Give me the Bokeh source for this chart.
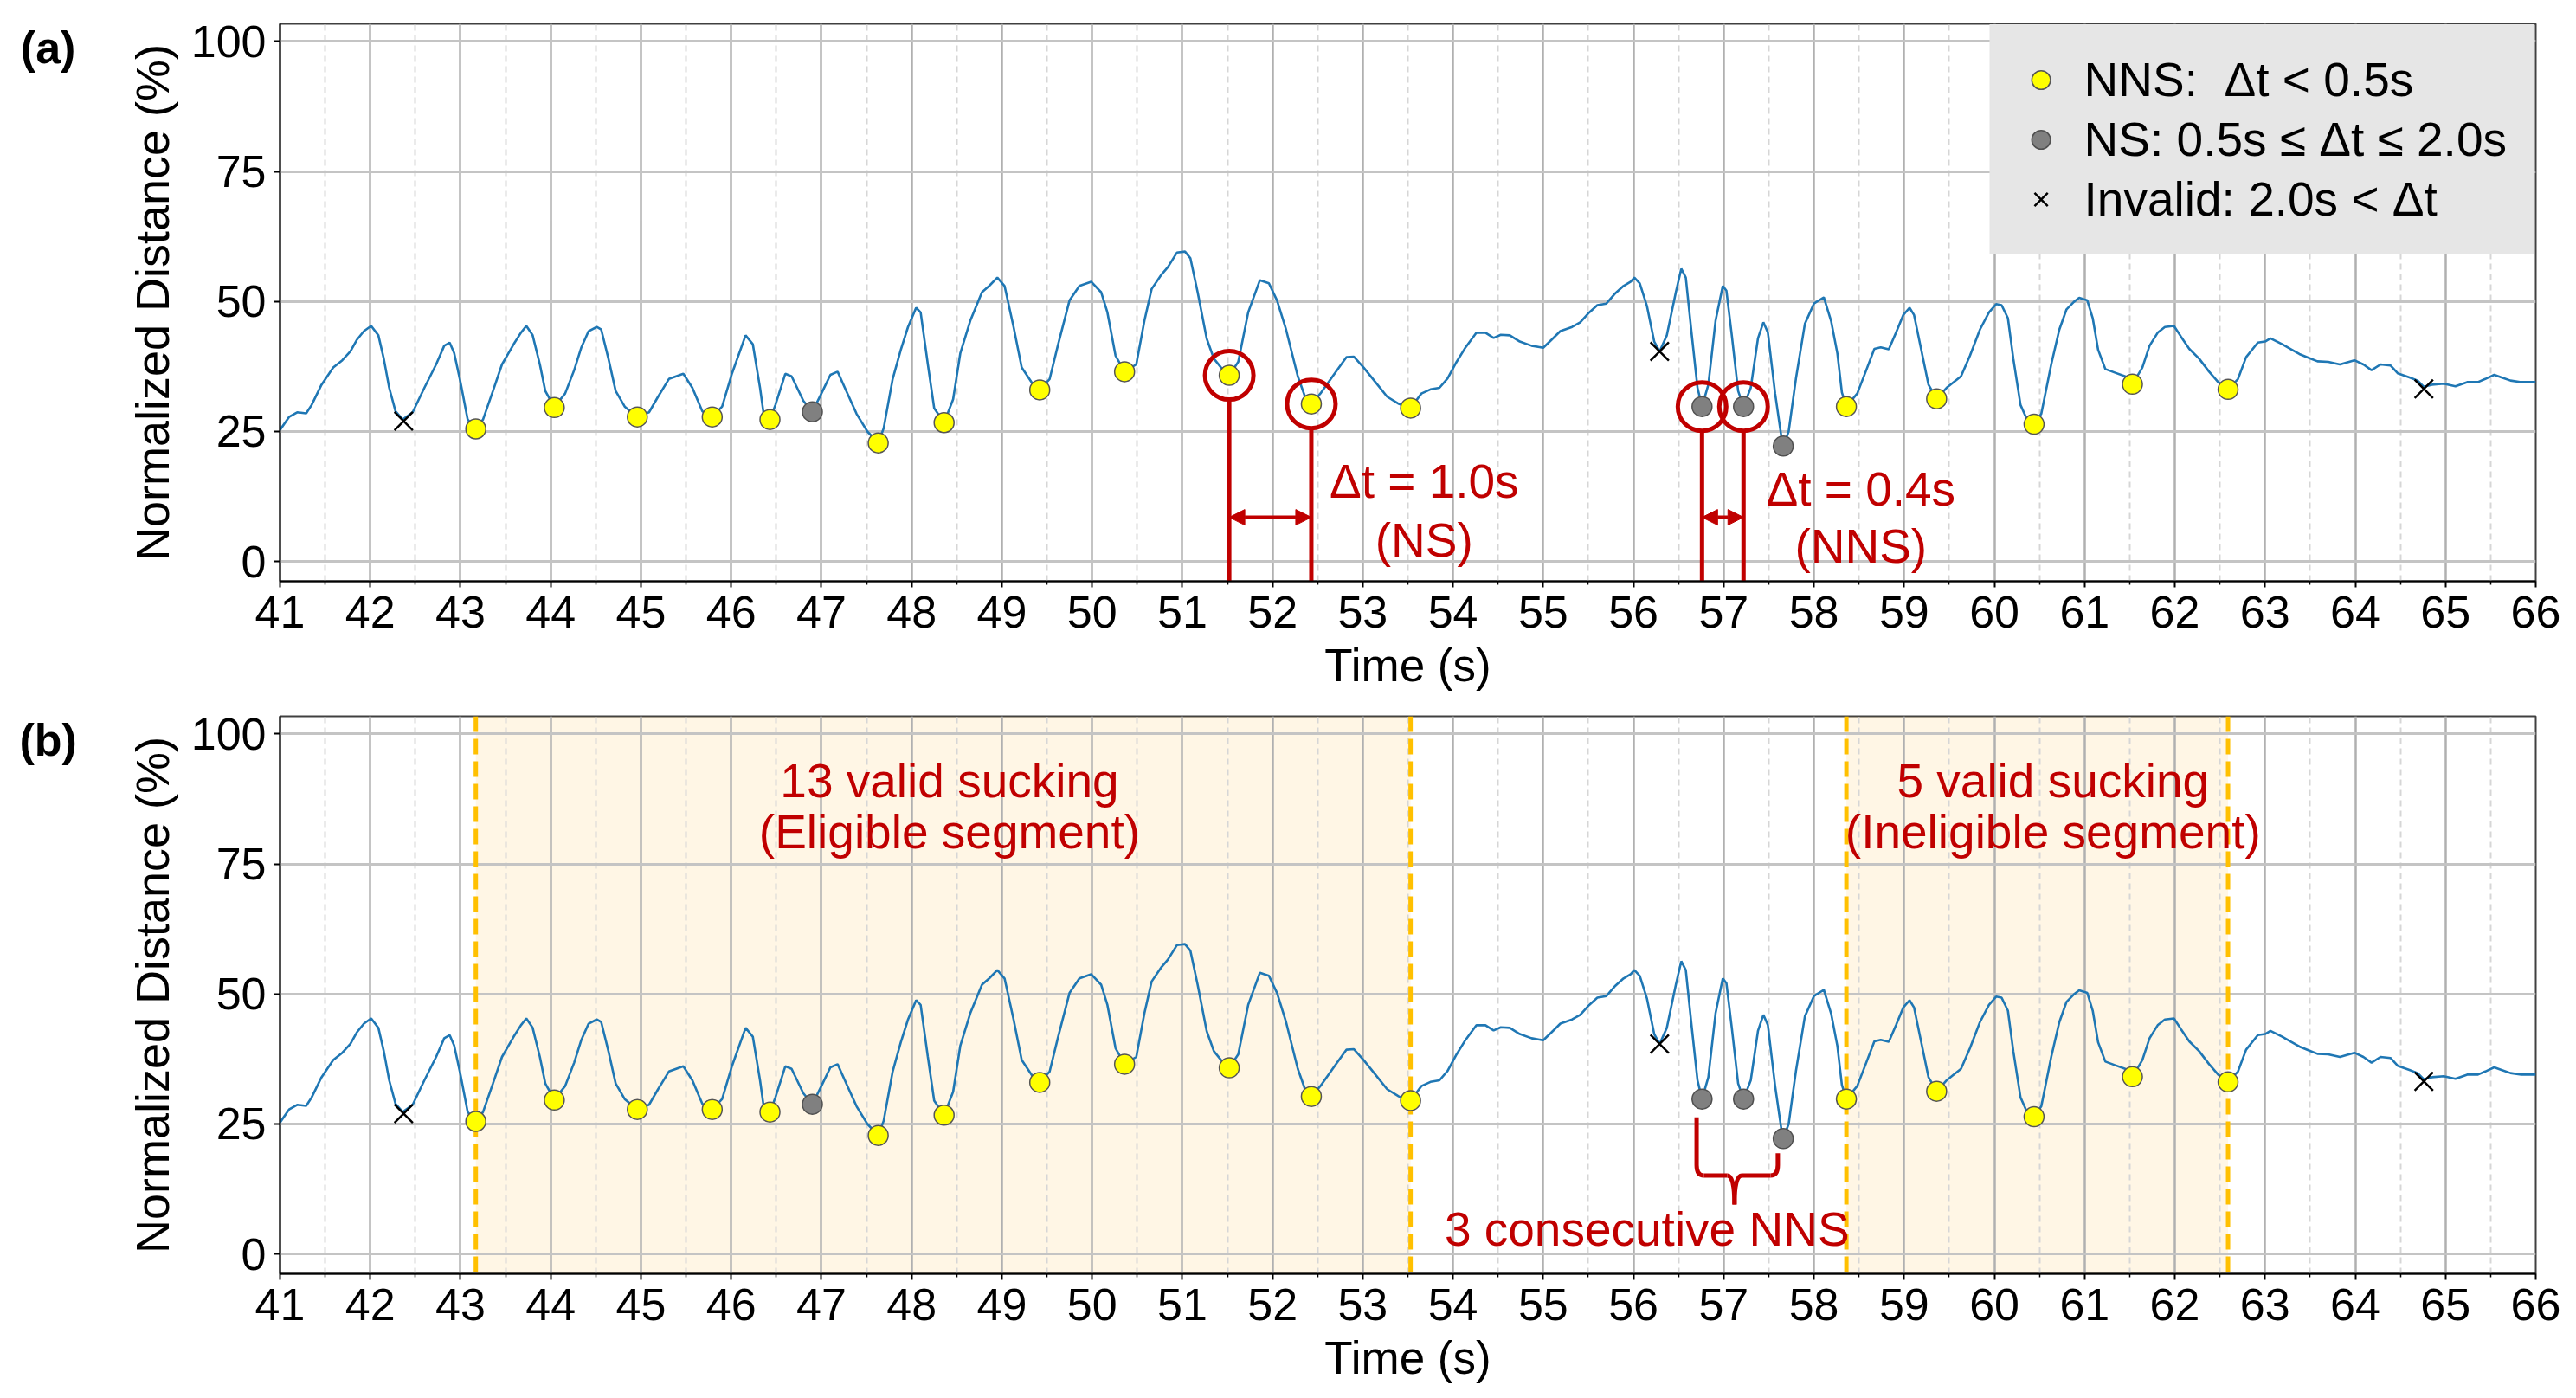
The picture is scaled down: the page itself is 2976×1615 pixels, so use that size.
from bokeh.plotting import figure
from bokeh.models import (Range1d, FixedTicker, Legend, LegendItem, Label, Span,
                          BoxAnnotation, Arrow, NormalHead)
from bokeh.layouts import column
from bokeh.embed import file_html
from bokeh.resources import INLINE

# ---------------- data ----------------
time_s = [41.00, 41.10, 41.19, 41.29, 41.35, 41.46, 41.59, 41.69, 41.78, 41.85, 41.93, 42.01,
          42.09, 42.15, 42.21, 42.28, 42.36, 42.47, 42.60, 42.73, 42.82, 42.88, 42.93, 43.00,
          43.08, 43.17, 43.25, 43.36, 43.46, 43.59, 43.67, 43.73, 43.80, 43.88, 43.94, 44.04,
          44.16, 44.26, 44.34, 44.42, 44.51, 44.56, 44.64, 44.72, 44.82, 44.96, 45.09, 45.19,
          45.31, 45.47, 45.57, 45.68, 45.79, 45.90, 46.01, 46.16, 46.24, 46.32, 46.36, 46.43,
          46.49, 46.60, 46.67, 46.80, 46.90, 47.00, 47.10, 47.18, 47.26, 47.39, 47.51, 47.63,
          47.69, 47.79, 47.88, 47.96, 48.05, 48.10, 48.18, 48.25, 48.36, 48.46, 48.54, 48.65,
          48.78, 48.86, 48.95, 49.03, 49.13, 49.22, 49.34, 49.42, 49.53, 49.62, 49.75, 49.86,
          49.99, 50.10, 50.17, 50.26, 50.36, 50.49, 50.58, 50.66, 50.77, 50.84, 50.94, 51.03,
          51.09, 51.17, 51.27, 51.35, 51.43, 51.52, 51.62, 51.73, 51.86, 51.96, 52.05, 52.15,
          52.28, 52.36, 52.43, 52.53, 52.69, 52.82, 52.90, 53.01, 53.14, 53.27, 53.40, 53.53,
          53.65, 53.75, 53.85, 53.94, 54.04, 54.14, 54.26, 54.36, 54.45, 54.53, 54.63, 54.74,
          54.87, 55.00, 55.09, 55.19, 55.32, 55.41, 55.51, 55.60, 55.70, 55.80, 55.89, 55.97,
          56.01, 56.07, 56.15, 56.23, 56.29, 56.37, 56.47, 56.53, 56.58, 56.64, 56.71, 56.76,
          56.83, 56.91, 56.99, 57.03, 57.09, 57.16, 57.22, 57.30, 57.38, 57.44, 57.49, 57.57,
          57.64, 57.66, 57.72, 57.80, 57.90, 58.00, 58.11, 58.19, 58.26, 58.31, 58.36, 58.48,
          58.58, 58.67, 58.74, 58.83, 58.91, 58.99, 59.06, 59.11, 59.19, 59.27, 59.36, 59.47,
          59.63, 59.73, 59.84, 59.94, 60.02, 60.08, 60.15, 60.21, 60.29, 60.37, 60.44, 60.52,
          60.63, 60.72, 60.80, 60.88, 60.94, 61.03, 61.09, 61.15, 61.23, 61.34, 61.45, 61.53,
          61.64, 61.72, 61.81, 61.89, 61.99, 62.07, 62.16, 62.27, 62.38, 62.48, 62.59, 62.70,
          62.79, 62.92, 63.00, 63.06, 63.19, 63.29, 63.38, 63.48, 63.58, 63.70, 63.83, 63.99,
          64.09, 64.18, 64.28, 64.39, 64.47, 64.60, 64.69, 64.76, 64.85, 64.98, 65.11, 65.24,
          65.36, 65.44, 65.54, 65.62, 65.72, 65.84, 66.00]
distance = [25.3, 27.8, 28.7, 28.5, 30.1, 34.0, 37.3, 38.7, 40.4, 42.6, 44.3, 45.3,
            43.5, 39.0, 33.4, 28.9, 27.3, 28.7, 33.4, 37.9, 41.5, 42.1, 40.1, 34.5,
            27.3, 25.5, 27.3, 32.8, 37.9, 41.8, 44.0, 45.3, 43.5, 37.9, 32.8, 29.7,
            32.3, 36.8, 41.2, 44.3, 45.1, 44.6, 39.0, 32.8, 29.8, 27.8, 28.7, 31.7,
            35.1, 36.1, 33.4, 28.9, 27.8, 29.8, 36.2, 43.5, 41.8, 33.4, 28.4, 27.3,
            30.1, 36.1, 35.6, 30.9, 28.8, 32.3, 35.9, 36.5, 33.4, 28.4, 25.0, 22.8,
            25.6, 35.1, 40.7, 45.1, 48.8, 47.9, 37.9, 29.5, 26.7, 31.2, 40.1, 46.3,
            51.8, 53.0, 54.6, 53.0, 45.1, 37.3, 34.2, 33.0, 35.1, 41.5, 50.2, 53.0,
            53.8, 51.8, 47.9, 39.6, 36.5, 37.9, 46.3, 52.4, 55.2, 56.6, 59.4, 59.6,
            58.3, 51.8, 42.9, 39.0, 37.3, 35.8, 38.4, 47.9, 54.1, 53.5, 50.2, 44.6,
            35.6, 31.7, 30.3, 32.3, 36.2, 39.3, 39.4, 37.3, 34.5, 31.7, 30.3, 29.5,
            32.3, 33.1, 33.4, 35.2, 38.4, 41.2, 44.0, 44.0, 43.0, 43.6, 43.5, 42.3,
            41.5, 41.1, 42.6, 44.3, 45.1, 46.0, 47.9, 49.3, 49.6, 51.6, 53.0, 53.8,
            54.6, 53.5, 49.1, 42.3, 40.4, 43.5, 51.8, 56.3, 54.6, 44.6, 33.4, 29.8,
            34.0, 46.3, 53.0, 52.1, 43.5, 32.8, 29.8, 33.4, 42.9, 46.0, 44.0, 32.3,
            23.9, 22.2, 25.0, 35.1, 45.7, 49.6, 50.8, 46.3, 40.0, 32.5, 29.8, 32.3,
            36.8, 40.9, 41.2, 40.8, 44.0, 47.4, 48.8, 47.4, 40.7, 34.0, 31.3, 33.4,
            35.6, 39.6, 44.6, 47.9, 49.5, 49.3, 46.8, 39.0, 30.1, 27.0, 26.4, 28.4,
            37.9, 44.6, 48.5, 49.9, 50.7, 50.2, 46.8, 40.7, 37.0, 36.3, 35.6, 34.1,
            37.3, 41.5, 44.0, 45.1, 45.3, 43.2, 40.9, 39.0, 36.5, 34.5, 33.1, 35.1,
            39.3, 42.1, 42.3, 42.9, 41.8, 40.8, 39.9, 39.2, 38.5, 38.4, 37.9, 38.7,
            37.9, 36.8, 37.9, 37.7, 36.2, 35.4, 34.8, 33.6, 34.0, 34.2, 33.7, 34.5,
            34.5, 35.1, 35.9, 35.4, 34.8, 34.5, 34.5]

nns_t = [43.17, 44.04, 44.96, 45.79, 46.43, 47.63, 48.36, 49.42, 50.36, 51.52, 52.43, 53.53,
         58.36, 59.36, 60.44, 61.53, 62.59]
nns_v = [25.5, 29.6, 27.8, 27.8, 27.3, 22.8, 26.7, 33.0, 36.5, 35.8, 30.3, 29.5,
         29.8, 31.3, 26.4, 34.1, 33.1]
ns_t = [46.90, 56.76, 57.22, 57.66]
ns_v = [28.8, 29.8, 29.8, 22.2]
inv_t = [42.37, 56.29, 64.76]
inv_v = [27.0, 40.4, 33.2]

x_ticks = list(range(41, 67))
x_minor = [t + 0.5 for t in range(41, 66)]
y_ticks = [0, 25, 50, 75, 100]

legend_labels = ["NNS:  \u0394t < 0.5s", "NS: 0.5s \u2264 \u0394t \u2264 2.0s", "Invalid: 2.0s < \u0394t"]

# highlighted interval pairs in panel (a)
pair_t = [[51.52, 52.43], [56.76, 57.22]]
pair_v = [[35.8, 30.3], [29.8, 29.8]]
pair_text = [["\u0394t = 1.0s", "(NS)"], ["\u0394t = 0.4s", "(NNS)"]]
pair_text_x = [53.68, 58.52]
pair_text_y = [[15.4, 4.1], [14.0, 2.9]]

# segments in panel (b)
seg_start = [43.17, 58.36]
seg_end = [53.53, 62.59]
seg_text = [["13 valid sucking", "(Eligible segment)"], ["5 valid sucking", "(Ineligible segment)"]]
seg_text_x = [48.42, 60.65]
seg_text_y = [91.0, 81.1]

RED = "#c00000"
FONT = "Liberation Sans"
Y0, Y1 = -3.8, 103.4
FRAME_W = 2606
FRAME_H = 644


def make_fig(top, bottom, tag):
    p = figure(frame_width=FRAME_W, frame_height=FRAME_H,
               x_range=Range1d(41, 66), y_range=Range1d(Y0, Y1),
               output_backend="svg", toolbar_location=None,
               min_border_left=323, min_border_right=40,
               min_border_top=top, min_border_bottom=bottom,
               background_fill_color="white", border_fill_color="white")
    p.xaxis.ticker = FixedTicker(ticks=x_ticks, minor_ticks=x_minor)
    p.yaxis.ticker = FixedTicker(ticks=y_ticks, minor_ticks=[])
    p.xgrid.grid_line_color = "#b0b0b0"
    p.xgrid.grid_line_width = 2.5
    p.xgrid.minor_grid_line_color = "#d6d6d6"
    p.xgrid.minor_grid_line_width = 2
    p.xgrid.minor_grid_line_dash = "7 5"
    p.ygrid.grid_line_color = "#c4c4c4"
    p.ygrid.grid_line_width = 3
    p.outline_line_color = "#404040"
    p.outline_line_width = 2
    for ax in (p.xaxis, p.yaxis):
        ax.axis_line_color = "black"
        ax.axis_line_width = 2
        ax.major_tick_line_color = "black"
        ax.major_tick_line_width = 2
        ax.major_tick_out = 7
        ax.major_tick_in = 0
        ax.major_label_text_font = FONT
        ax.major_label_text_font_size = "52px"
        ax.major_label_text_color = "black"
        ax.axis_label_text_font = FONT
        ax.axis_label_text_font_style = "normal"
        ax.axis_label_text_color = "black"
    p.xaxis.minor_tick_line_color = "black"
    p.xaxis.minor_tick_line_width = 1.5
    p.xaxis.minor_tick_out = 4
    p.xaxis.minor_tick_in = 0
    p.yaxis.minor_tick_line_color = None
    p.xaxis.axis_label = "Time (s)"
    p.xaxis.axis_label_text_font_size = "53px"
    p.xaxis.major_label_standoff = 10
    p.xaxis.axis_label_standoff = 11
    p.yaxis.axis_label = "Normalized Distance (%)"
    p.yaxis.axis_label_text_font_size = "54px"
    p.yaxis.major_label_standoff = 9
    p.yaxis.axis_label_standoff = 12

    p.line(time_s, distance, line_color="#1f77b4", line_width=2.6)
    r_nns = p.scatter(nns_t, nns_v, marker="circle", size=23, fill_color="#ffff00",
                      line_color="#555555", line_width=1.5)
    r_ns = p.scatter(ns_t, ns_v, marker="circle", size=23, fill_color="#808080",
                     line_color="#505050", line_width=1.5)
    r_inv = p.scatter(inv_t, inv_v, marker="x", size=30, line_color="black", line_width=2.5)

    # panel tag, kept in the left side panel so it is not clipped by the frame
    p.add_layout(Label(x=38.43, y=98.8, text=tag, text_align="center",
                       text_baseline="middle", text_font=FONT, text_font_style="bold",
                       text_font_size="52px", text_color="black"), "left")
    return p, r_nns, r_ns, r_inv


# ---------------- panel (a) ----------------
pa, ra_nns, ra_ns, ra_inv = make_fig(27, 140, "(a)")
r_px = 28.0
r_data = r_px * (Y1 - Y0) / FRAME_H
for ts, vs, txt, tx, ty in zip(pair_t, pair_v, pair_text, pair_text_x, pair_text_y):
    pa.scatter(ts, vs, marker="circle", size=2 * r_px, fill_color=None,
               line_color=RED, line_width=5)
    pa.segment(x0=ts, y0=[v - r_data for v in vs], x1=ts, y1=[Y0, Y0],
               line_color=RED, line_width=5)
    pa.add_layout(Arrow(start=NormalHead(size=18, fill_color=RED, line_color=RED),
                        end=NormalHead(size=18, fill_color=RED, line_color=RED),
                        x_start=ts[0], y_start=8.5, x_end=ts[1], y_end=8.5,
                        line_color=RED, line_width=4))
    for line_txt, yy in zip(txt, ty):
        pa.add_layout(Label(x=tx, y=yy, text=line_txt, text_align="center",
                            text_baseline="middle", text_font=FONT,
                            text_font_size="55px", text_color=RED))

legend = Legend(items=[LegendItem(label=legend_labels[0], renderers=[ra_nns]),
                       LegendItem(label=legend_labels[1], renderers=[ra_ns]),
                       LegendItem(label=legend_labels[2], renderers=[ra_inv])],
                location="top_right")
legend.background_fill_color = "#e6e6e6"
legend.background_fill_alpha = 1.0
legend.border_line_color = "#e6e6e6"
legend.border_line_width = 1
legend.label_text_font = FONT
legend.label_text_font_size = "55px"
legend.label_text_color = "black"
legend.glyph_width = 54
legend.glyph_height = 56
legend.label_height = 60
legend.spacing = 5
legend.padding = 31
legend.label_standoff = 23
legend.margin = 1
pa.add_layout(legend)

# ---------------- panel (b) ----------------
pb, rb_nns, rb_ns, rb_inv = make_fig(16, 10, "(b)")
for s, e in zip(seg_start, seg_end):
    pb.add_layout(BoxAnnotation(left=s, right=e, fill_color="orange", fill_alpha=0.1,
                                line_color=None, level="image"))
    for loc in (s, e):
        pb.add_layout(Span(location=loc, dimension="height", line_color="#ffc000",
                           line_width=5, line_dash="18 8", level="underlay"))
for txt, tx in zip(seg_text, seg_text_x):
    for line_txt, yy in zip(txt, seg_text_y):
        pb.add_layout(Label(x=tx, y=yy, text=line_txt, text_align="center",
                            text_baseline="middle", text_font=FONT,
                            text_font_size="55px", text_color=RED))

# curly brace under the three consecutive points
xl, xr, xm = 56.70, 57.60, 57.12
ytl, ytr, yh, yc = 26.3, 19.4, 15.1, 9.5
dx, dy = 0.08, 2.0
pb.segment(x0=[xl, xl + dx, xm + dx, xr], y0=[ytl, yh, yh, yh + dy],
           x1=[xl, xm - dx, xr - dx, xr], y1=[yh + dy, yh, yh, ytr],
           line_color=RED, line_width=5)
pb.quadratic(x0=[xl, xm - dx, xm, xr - dx], y0=[yh + dy, yh, yc, yh],
             x1=[xl + dx, xm, xm + dx, xr], y1=[yh, yc, yh, yh + dy],
             cx=[xl, xm, xm, xr], cy=[yh, yh, yh, yh],
             line_color=RED, line_width=5)
pb.add_layout(Label(x=56.15, y=4.8, text="3 consecutive NNS", text_align="center",
                    text_baseline="middle", text_font=FONT, text_font_size="55px",
                    text_color=RED))

layout = column(pa, pb)
open("out.html", "w").write(file_html(layout, INLINE))
